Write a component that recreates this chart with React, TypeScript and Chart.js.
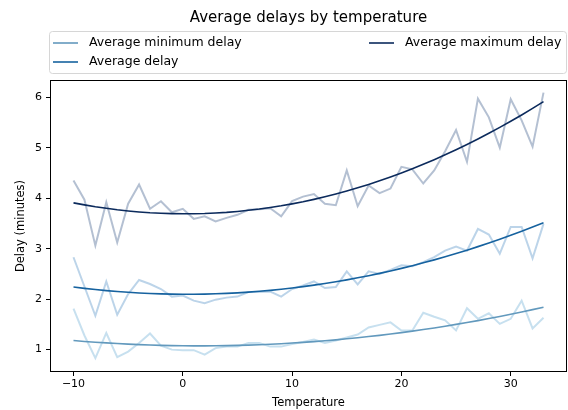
import React, { useEffect, useRef } from 'react';
import { Chart, registerables } from 'chart.js';

Chart.register(...registerables);

const temperatures = [
  -10, -9, -8, -7, -6, -5, -4, -3, -2, -1, 0, 1, 2, 3, 4, 5, 6, 7, 8, 9, 10,
  11, 12, 13, 14, 15, 16, 17, 18, 19, 20, 21, 22, 23, 24, 25, 26, 27, 28, 29,
  30, 31, 32, 33,
];

const minDelayRaw = [
  1.81, 1.28, 0.83, 1.33, 0.85, 0.96, 1.13, 1.32, 1.08, 1.0, 0.99, 0.99, 0.9,
  1.03, 1.06, 1.06, 1.13, 1.13, 1.06, 1.06, 1.11, 1.15, 1.2, 1.13, 1.18, 1.24,
  1.3, 1.44, 1.49, 1.54, 1.38, 1.38, 1.73, 1.65, 1.58, 1.38, 1.82, 1.61, 1.72,
  1.51, 1.61, 1.97, 1.42, 1.63,
];

const avgDelayRaw = [
  2.83, 2.25, 1.67, 2.35, 1.69, 2.1, 2.38, 2.3, 2.2, 2.05, 2.07, 1.97, 1.92,
  1.99, 2.03, 2.05, 2.14, 2.14, 2.15, 2.05, 2.2, 2.27, 2.35, 2.22, 2.24, 2.55,
  2.29, 2.55, 2.5, 2.58, 2.67, 2.65, 2.73, 2.83, 2.96, 3.04, 2.96, 3.39, 3.28,
  2.9, 3.43, 3.43, 2.81, 3.49,
];

const maxDelayRaw = [
  4.35, 3.97, 3.06, 3.92, 3.12, 3.89, 4.27, 3.79, 3.94, 3.72, 3.79, 3.59, 3.64,
  3.54, 3.61, 3.67, 3.77, 3.78, 3.8, 3.64, 3.94, 4.03, 4.08, 3.89, 3.86, 4.55,
  3.84, 4.25, 4.1, 4.19, 4.62, 4.57, 4.29, 4.55, 4.93, 5.35, 4.72, 5.97, 5.6,
  5.0, 5.96, 5.54, 5.02, 6.09,
];

const minDelayFit = [
  1.18, 1.162, 1.147, 1.133, 1.12, 1.109, 1.099, 1.092, 1.085, 1.08, 1.077,
  1.075, 1.075, 1.077, 1.079, 1.084, 1.09, 1.098, 1.107, 1.117, 1.13, 1.143,
  1.159, 1.176, 1.194, 1.214, 1.236, 1.259, 1.283, 1.31, 1.337, 1.367, 1.398,
  1.43, 1.464, 1.5, 1.537, 1.575, 1.615, 1.657, 1.701, 1.745, 1.792, 1.84,
];

const avgDelayFit = [
  2.24, 2.214, 2.19, 2.169, 2.151, 2.135, 2.122, 2.112, 2.104, 2.099, 2.097,
  2.097, 2.1, 2.106, 2.114, 2.125, 2.139, 2.155, 2.174, 2.196, 2.22, 2.247,
  2.277, 2.309, 2.344, 2.381, 2.422, 2.464, 2.51, 2.558, 2.609, 2.663, 2.719,
  2.778, 2.839, 2.903, 2.97, 3.04, 3.112, 3.187, 3.264, 3.344, 3.427, 3.512,
];

const maxDelayFit = [
  3.907, 3.867, 3.83, 3.8, 3.77, 3.747, 3.727, 3.71, 3.7, 3.693, 3.69, 3.691,
  3.696, 3.706, 3.719, 3.737, 3.759, 3.784, 3.814, 3.848, 3.887, 3.929, 3.976,
  4.027, 4.082, 4.141, 4.204, 4.271, 4.343, 4.418, 4.498, 4.582, 4.67, 4.762,
  4.858, 4.959, 5.063, 5.172, 5.285, 5.402, 5.523, 5.648, 5.778, 5.911,
];

const xTicks = [-10, 0, 10, 20, 30];
const yTicks = [1, 2, 3, 4, 5, 6];

const titleText = 'Average delays by temperature';
const xLabel = 'Temperature';
const yLabel = 'Delay (minutes)';
const seriesLabels = ['Average minimum delay', 'Average delay', 'Average maximum delay'];

const FONT = '"DejaVu Sans", sans-serif';
const fitColors = ['#6299bd', '#16629f', '#0b2a5c'];
const rawColors = ['rgba(107,174,214,0.38)', 'rgba(33,113,181,0.3)', 'rgba(8,48,107,0.3)'];

const toPoints = (ys: number[]) => temperatures.map((t, i) => ({ x: t, y: ys[i] }));
const fmt = (v: number) => (v < 0 ? '\u2212' + Math.abs(v) : String(v));

const decorPlugin = {
  id: 'decor',
  afterDraw(chart: any) {
    const { ctx, chartArea } = chart;
    const { left, right, top, bottom } = chartArea;
    ctx.save();
    // spines
    ctx.strokeStyle = '#000';
    ctx.lineWidth = 1;
    ctx.strokeRect(left + 0.5, top + 0.5, right - left - 1, bottom - top - 1);
    // title
    ctx.fillStyle = '#000';
    ctx.textAlign = 'center';
    ctx.textBaseline = 'middle';
    ctx.font = `15px ${FONT}`;
    ctx.fillText(titleText, (left + right) / 2, 18);
    // axis labels
    ctx.font = `11.5px ${FONT}`;
    ctx.fillText(xLabel, (left + right) / 2, 403);
    ctx.save();
    ctx.translate(21, (top + bottom) / 2);
    ctx.rotate(-Math.PI / 2);
    ctx.fillText(yLabel, 0, 0);
    ctx.restore();
    // legend
    const bx = 49.5, by = 31.5, bw = 517, bh = 42, r = 3;
    ctx.beginPath();
    ctx.moveTo(bx + r, by);
    ctx.lineTo(bx + bw - r, by);
    ctx.arcTo(bx + bw, by, bx + bw, by + r, r);
    ctx.lineTo(bx + bw, by + bh - r);
    ctx.arcTo(bx + bw, by + bh, bx + bw - r, by + bh, r);
    ctx.lineTo(bx + r, by + bh);
    ctx.arcTo(bx, by + bh, bx, by + bh - r, r);
    ctx.lineTo(bx, by + r);
    ctx.arcTo(bx, by, bx + r, by, r);
    ctx.closePath();
    ctx.fillStyle = 'rgba(255,255,255,0.8)';
    ctx.fill();
    ctx.strokeStyle = '#d6d6d6';
    ctx.stroke();
    const entries = [
      { x: 53, y: 43, i: 0 },
      { x: 53, y: 62, i: 1 },
      { x: 369, y: 43, i: 2 },
    ];
    ctx.font = `12.5px ${FONT}`;
    ctx.textAlign = 'left';
    entries.forEach((e) => {
      ctx.strokeStyle = fitColors[e.i];
      ctx.lineWidth = 1.6;
      ctx.beginPath();
      ctx.moveTo(e.x, e.y);
      ctx.lineTo(e.x + 25, e.y);
      ctx.stroke();
      ctx.fillStyle = '#000';
      ctx.fillText(seriesLabels[e.i], e.x + 36, e.y);
    });
    ctx.restore();
  },
};

export default function App() {
  const canvasRef = useRef<HTMLCanvasElement | null>(null);

  useEffect(() => {
    document.body.style.margin = '0';
    const canvas = canvasRef.current;
    if (!canvas) return;
    const rawData = [minDelayRaw, avgDelayRaw, maxDelayRaw];
    const fitData = [minDelayFit, avgDelayFit, maxDelayFit];
    const datasets: any[] = [];
    rawData.forEach((d, i) => {
      datasets.push({
        label: seriesLabels[i] + ' (raw)',
        data: toPoints(d),
        borderColor: rawColors[i],
        borderWidth: 2,
        pointRadius: 0,
        tension: 0,
        order: 1,
      });
    });
    fitData.forEach((d, i) => {
      datasets.push({
        label: seriesLabels[i],
        data: toPoints(d),
        borderColor: fitColors[i],
        borderWidth: 1.6,
        pointRadius: 0,
        tension: 0,
        order: 0,
      });
    });

    const chart = new Chart(canvas, {
      type: 'line',
      data: { datasets },
      options: {
        animation: false,
        responsive: false,
        maintainAspectRatio: false,
        layout: { padding: { left: 0, right: 1, top: 80, bottom: 0 } },
        plugins: {
          legend: { display: false },
          title: { display: false },
          tooltip: { enabled: false },
        },
        scales: {
          x: {
            type: 'linear',
            min: -12.15,
            max: 35.15,
            afterBuildTicks: (axis: any) => {
              axis.ticks = xTicks.map((v) => ({ value: v }));
            },
            afterFit: (axis: any) => {
              axis.height = 38;
            },
            ticks: {
              color: '#000',
              font: { family: FONT, size: 11 },
              padding: 2,
              maxRotation: 0,
              callback: (v: any) => fmt(Number(v)),
            },
            grid: {
              drawOnChartArea: false,
              drawTicks: true,
              tickLength: 4,
              color: '#000',
            },
            border: { display: false },
          },
          y: {
            type: 'linear',
            min: 0.557,
            max: 6.34,
            afterBuildTicks: (axis: any) => {
              axis.ticks = yTicks.map((v) => ({ value: v }));
            },
            afterFit: (axis: any) => {
              axis.width = 50;
            },
            ticks: {
              color: '#000',
              font: { family: FONT, size: 11 },
              padding: 4,
              callback: (v: any) => fmt(Number(v)),
            },
            grid: {
              drawOnChartArea: false,
              drawTicks: true,
              tickLength: 4,
              color: '#000',
            },
            border: { display: false },
          },
        },
      },
      plugins: [decorPlugin],
    });
    return () => chart.destroy();
  }, []);

  return (
    <div style={{ position: 'absolute', left: 0, top: 0, width: 568, height: 410 }}>
      <canvas ref={canvasRef} width={568} height={410} style={{ width: 568, height: 410, display: 'block' }} />
    </div>
  );
}
